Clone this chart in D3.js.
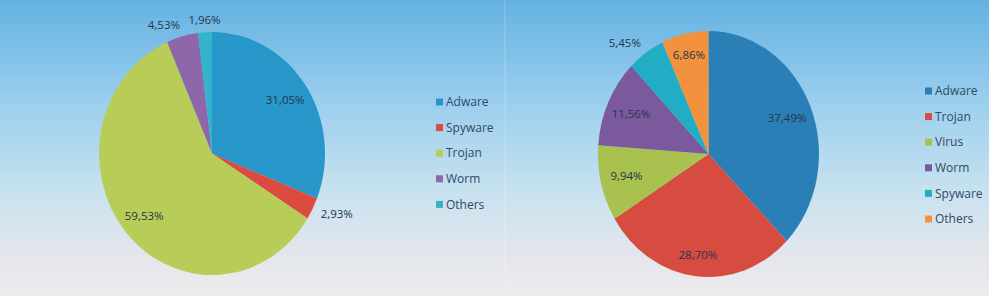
<!DOCTYPE html>
<html lang="en">
<head>
    <meta charset="UTF-8">
    <title>Malware pies</title>
    <style>
        body { margin: 0; background: #fff; }
        svg { display: block; }
    </style>
</head>
<body>

    <svg id="svg" width="992" height="296"></svg>

    <script src="https://d3js.org/d3.v7.min.js"></script>
    <script>
        // left chart
        const leftCats = ['Adware', 'Spyware', 'Trojan', 'Worm', 'Others']
        const leftVals = [31.05, 2.93, 59.53, 4.53, 1.96]
        const leftColors = ['#2796c9', '#dc4a40', '#b8cd58', '#8d67aa', '#33b4cc']

        // right chart
        const rightCats = ['Adware', 'Trojan', 'Virus', 'Worm', 'Spyware', 'Others']
        const rightVals = [37.49, 28.70, 9.94, 11.56, 5.45, 6.86]
        const rightColors = ['#2a7fb6', '#d64c40', '#a9c14e', '#7a5a9c', '#21aec4', '#f2923e']

        const svg = d3.select('#svg')
        const fmt = v => d3.format('.2f')(v).replace('.', ',') + '%'

        // background gradient
        const grad = svg.append('defs').append('linearGradient')
            .attr('id', 'bg')
            .attr('x1', 0).attr('y1', 0).attr('x2', 0).attr('y2', 1)
        grad.append('stop').attr('offset', '0%').attr('stop-color', '#64b2e2')
        grad.append('stop').attr('offset', '35%').attr('stop-color', '#9ccfee')
        grad.append('stop').attr('offset', '65%').attr('stop-color', '#c8e2ef')
        grad.append('stop').attr('offset', '85%').attr('stop-color', '#e2e6ec')
        grad.append('stop').attr('offset', '100%').attr('stop-color', '#efebed')

        svg.append('rect')
            .attr('width', 989).attr('height', 296)
            .attr('fill', 'url(#bg)')

        // faint seam between the two screenshots
        svg.append('line')
            .attr('x1', 505).attr('x2', 505).attr('y1', 0).attr('y2', 296)
            .attr('stroke', '#ffffff').attr('stroke-opacity', 0.25)

        function drawPie(opts) {
            const { cats, vals, colors, cx, cy, rx, ry, legX, legY } = opts
            const R = 100
            const pie = d3.pie().sort(null).value(d => d)
            const arcs = pie(vals)
            const arc = d3.arc().innerRadius(0).outerRadius(R)

            const g = svg.append('g')
                .attr('transform', `translate(${cx},${cy})`)

            g.append('g')
                .attr('transform', `scale(${rx / R},${ry / R})`)
                .selectAll('path')
                .data(arcs)
                .join('path')
                .attr('d', arc)
                .attr('fill', (d, i) => colors[i])

            // label placement: small slices outside, the rest inside
            const place = d => {
                const a = (d.startAngle + d.endAngle) / 2
                const s = Math.sin(a), c = Math.cos(a)
                if (d.data < 6) {
                    const anchor = Math.abs(s) < 0.15 ? 'middle' : (s < 0 ? 'end' : 'start')
                    return { x: s * rx * 1.08, y: -c * ry * 1.1, anchor }
                }
                const k = 0.76 + 0.07 * c * c
                return { x: s * rx * k, y: -c * ry * k, anchor: 'middle' }
            }

            g.selectAll('text')
                .data(arcs)
                .join('text')
                .attr('x', d => place(d).x)
                .attr('y', d => place(d).y)
                .attr('dy', '0.35em')
                .attr('text-anchor', d => place(d).anchor)
                .text(d => fmt(d.data))
                .style('font-family', '"Open Sans", sans-serif')
                .style('font-size', '11.5px')
                .style('fill', '#24364f')

            // legend
            const leg = svg.append('g')
                .selectAll('g')
                .data(cats)
                .join('g')
                .attr('transform', (d, i) => `translate(${legX},${legY + i * 25.6})`)

            leg.append('rect')
                .attr('x', 0).attr('y', -3.5)
                .attr('width', 7).attr('height', 7)
                .attr('fill', (d, i) => colors[i])

            leg.append('text')
                .attr('x', 10)
                .attr('dy', '0.35em')
                .text(d => d)
                .style('font-family', '"Open Sans", sans-serif')
                .style('font-size', '12px')
                .style('fill', '#2f4a66')
        }

        drawPie({ cats: leftCats, vals: leftVals, colors: leftColors,
            cx: 212, cy: 153.5, rx: 113, ry: 121.5, legX: 436, legY: 102 })

        drawPie({ cats: rightCats, vals: rightVals, colors: rightColors,
            cx: 708.5, cy: 154, rx: 110.5, ry: 123, legX: 925, legY: 91 })
    </script>
</body>
</html>
